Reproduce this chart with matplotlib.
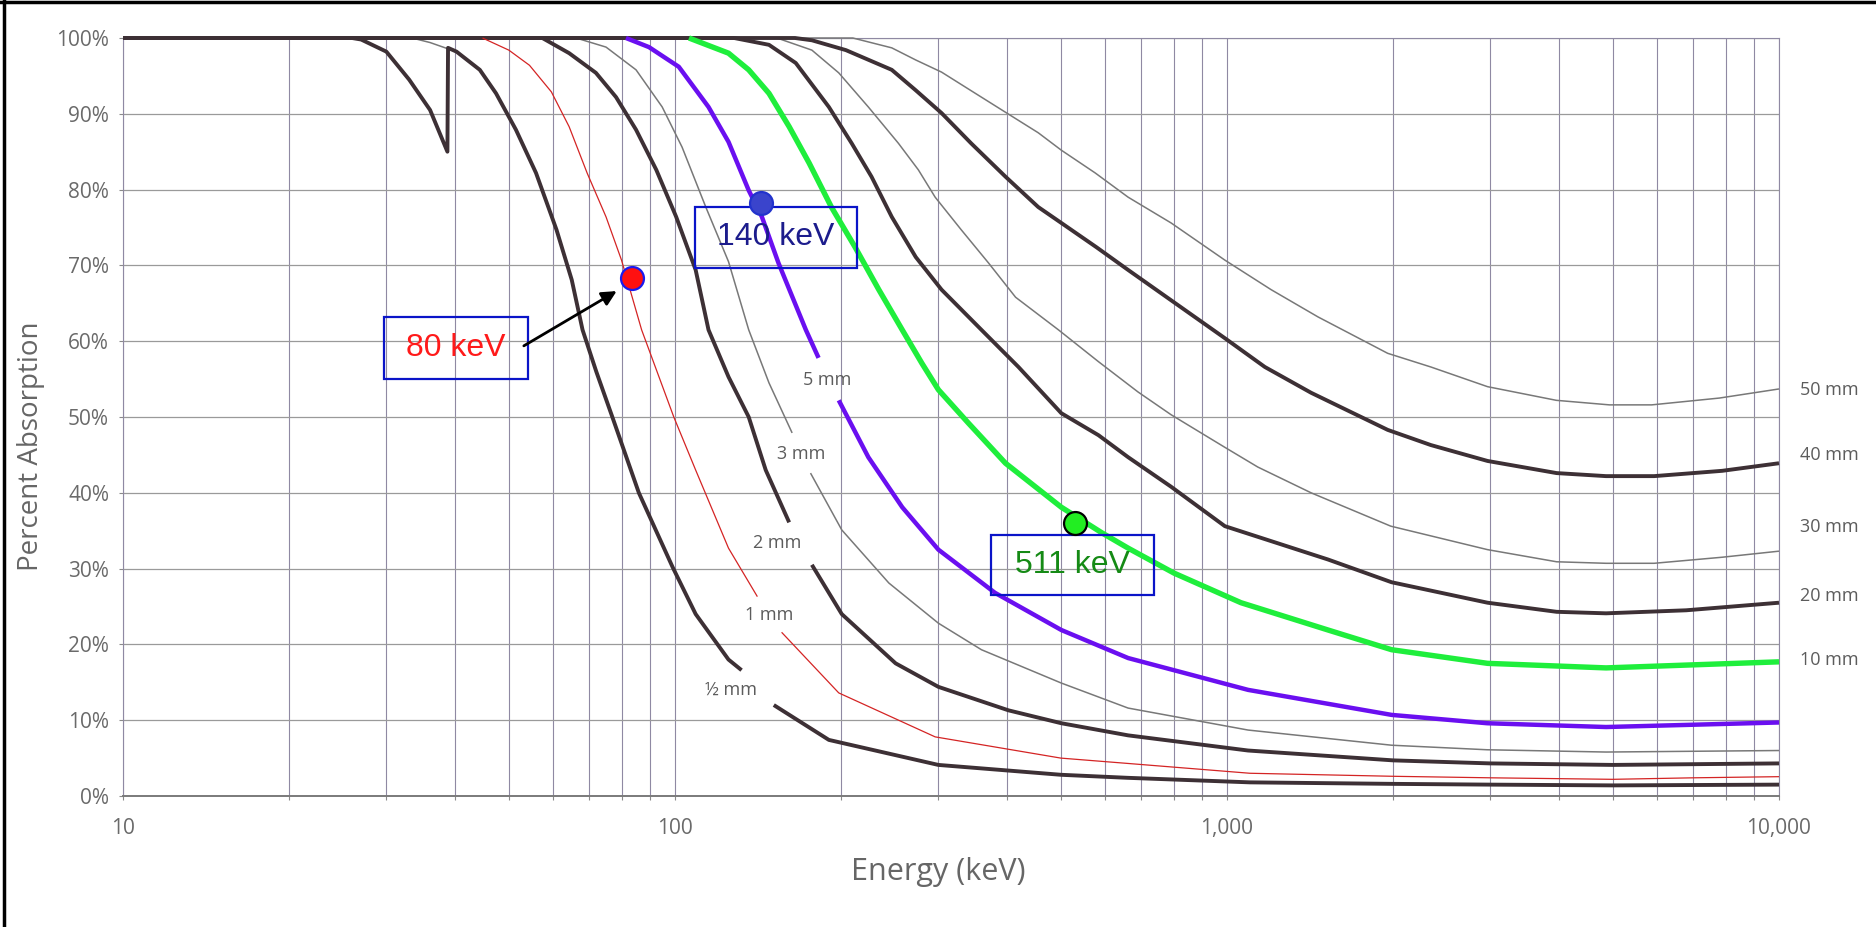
import numpy as np
import matplotlib.pyplot as plt
from matplotlib.patches import Rectangle
from matplotlib.lines import Line2D
from matplotlib.ticker import FixedLocator, LogLocator, NullFormatter

plt.rcParams['font.family'] = ['Open Sans', 'DejaVu Sans']

nan = np.nan

# percent absorption vs energy (keV), one pair per crystal thickness
half_mm_e = [10, 26, 27, 30, 33, 36, 38.7, 38.8, 40.2, 44.3, 47.4, 51.5, 56, 61, 65, 68, 72, 77, 86, 99,
             109, 125, 132, nan, 151, 190, 300, 500, 660, 1100, 2000, 3000, 5000, 10000]
half_mm_p = [100, 100, 99.8, 98.2, 94.5, 90.5, 85.0, 98.7, 98.2, 95.8, 92.7, 87.9, 82.2, 74.7, 68.1, 61.5, 56, 50, 40, 30.2,
             24, 18, 16.6, nan, 12, 7.4, 4.1, 2.8, 2.4, 1.8, 1.6, 1.5, 1.4, 1.5]

one_mm_pre_e = [10, 33.4, 36, 38.7]
one_mm_pre_p = [100, 100, 99.4, 98.6]
one_mm_e = [44.8, 50, 54.5, 59.7, 64.3, 69.3, 75, 80, 87, 99.5, 109, 125, 141, nan, 156, 198, 296, 500, 660,
            1100, 2000, 3000, 5000, 7000, 10000]
one_mm_p = [100, 98.4, 96.4, 92.9, 88.3, 82.2, 76.4, 70.7, 61.5, 50, 43, 32.7, 26.3, nan, 21.6, 13.6, 7.8, 5.0, 4.3,
            3.0, 2.6, 2.4, 2.2, 2.4, 2.55]

two_mm_e = [10, 57.5, 64.3, 71.9, 78.2, 85, 92.5, 100.5, 109, 115, 125, 136, 146, 161, nan, 177, 200.5, 251, 300,
            402, 501, 662, 1092, 2000, 3000, 5000, 10000]
two_mm_p = [100, 100, 98, 95.4, 92.2, 87.9, 82.6, 76.4, 69.4, 61.5, 55.3, 50, 43, 36.1, nan, 30.5, 24.0, 17.5, 14.4,
            11.3, 9.6, 8.0, 6.0, 4.7, 4.3, 4.1, 4.3]

three_mm_e = [10, 66.2, 75, 85, 94.8, 103, 113.7, 125, 136, 148, 163, nan, 176, 200.5, 244, 300, 359, 501, 662,
              1092, 1987, 2960, 4860, 10000]
three_mm_p = [100, 100, 98.8, 95.8, 90.9, 85.6, 77.7, 70.5, 61.5, 54.5, 47.9, nan, 42.6, 35.1, 28.1, 22.8, 19.3, 14.9, 11.6,
              8.7, 6.7, 6.1, 5.8, 6.0]

five_mm_e = [81.5, 89.7, 101.6, 115, 125, 136, 143.7, 154, 172.6, 182, nan, 198, 224, 258, 300, 380, 501, 662,
             1092, 1987, 2960, 4860, 10000]
five_mm_p = [100, 98.8, 96.2, 90.9, 86.3, 79.9, 76.4, 70.3, 61.5, 57.8, nan, 52.2, 44.7, 38.1, 32.5, 26.8, 21.9, 18.2,
             14.0, 10.7, 9.6, 9.1, 9.7]

ten_mm_e = [106, 125, 136, 148, 161, 175, 192, 212, 234, 258, 280, 300, 340, 397, 501, 594, 662, 802,
            1060, 1524, 1987, 2965, 4860, 10000]
ten_mm_p = [100, 98, 95.8, 92.7, 88.3, 83.5, 77.7, 72.4, 66.8, 61.5, 57.1, 53.6, 49.2, 43.9, 38.1, 34.7, 32.7, 29.4,
            25.5, 21.9, 19.3, 17.5, 16.9, 17.7]

twenty_mm_e = [10, 128, 148, 165.5, 190, 209, 227, 247, 273, 304, 359, 419, 501, 585, 662, 792, 991,
               1524, 1987, 2965, 3955, 4860, 6790, 10000]
twenty_mm_p = [100, 100, 99.1, 96.7, 90.9, 86.1, 81.7, 76.4, 71.1, 66.8, 61.5, 56.6, 50.5, 47.6, 44.7, 40.8, 35.6,
               31.2, 28.2, 25.5, 24.3, 24.1, 24.5, 25.5]

thirty_mm_e = [10, 153, 177, 198, 224, 254, 276, 296, 330, 370, 414, 495, 585, 690, 792, 991, 1137, 1420,
               1980, 2965, 3955, 4860, 5940, 7890, 10000]
thirty_mm_p = [100, 100, 98.4, 95.4, 90.9, 86.1, 82.6, 79.0, 74.7, 70.3, 65.8, 61.5, 57.3, 53.3, 50.3, 46.0, 43.4, 40.0,
               35.6, 32.5, 30.9, 30.7, 30.7, 31.5, 32.3]

forty_mm_e = [10, 165, 177, 204, 247, 273, 304, 344, 397, 455, 501, 580, 662, 792, 991, 1171, 1420, 1955,
              2340, 2965, 3955, 4860, 5940, 7890, 10000]
forty_mm_p = [100, 100, 99.7, 98.4, 95.8, 93.1, 90.1, 86.1, 81.7, 77.7, 75.6, 72.4, 69.4, 65.4, 60.4, 56.6, 53.2, 48.3,
              46.3, 44.2, 42.6, 42.2, 42.2, 42.9, 43.9]

fifty_mm_e = [10, 210, 247, 273, 304, 350, 397, 455, 501, 577, 662, 792, 991, 1202, 1462, 1955, 2340, 2965,
              3950, 4930, 5880, 7800, 10000]
fifty_mm_p = [100, 100, 98.7, 97.1, 95.5, 92.7, 90.2, 87.5, 85.2, 82.2, 79.0, 75.6, 70.7, 66.8, 63.2, 58.4, 56.6, 54.0,
              52.2, 51.6, 51.6, 52.5, 53.7]

# marked energies
mark_labels = ['80 keV', '140 keV', '511 keV']
mark_e = [83.6, 143, 531]
mark_p = [68.3, 78.2, 36.0]

# axis ticks
xtick_vals = [10, 100, 1000, 10000]
xtick_labels = ['10', '100', '1,000', '10,000']
ytick_vals = list(range(0, 101, 10))

# labels on the curves
inner_labels = ['½ mm', '1 mm', '2 mm', '3 mm', '5 mm']
inner_e = [126.5, 148, 153, 169, 188.5]
inner_p = [14.0, 23.9, 33.4, 45.1, 54.9]
right_labels = ['50 mm', '40 mm', '30 mm', '20 mm', '10 mm']
right_p = [53.6, 45.0, 35.5, 26.4, 17.9]

dark = '#3d3035'
thin = '#787878'
label_gray = '#5c5c5c'

fig = plt.figure(figsize=(18.76, 9.27), dpi=100)
ax = fig.add_axes([123 / 1876, 1 - 796 / 927, 1656 / 1876, 758 / 927])
ax.set_xscale('log')
ax.set_xlim(10, 10000)
ax.set_ylim(0, 100)

ax.xaxis.set_major_locator(FixedLocator(xtick_vals))
ax.xaxis.set_minor_locator(LogLocator(base=10, subs=np.arange(2, 10)))
ax.xaxis.set_minor_formatter(NullFormatter())
ax.set_xticklabels(xtick_labels)
ax.set_yticks(ytick_vals)
ax.set_yticklabels([f'{v}%' for v in ytick_vals])

ax.grid(which='both', axis='x', color='#8f89a3', lw=0.8)
ax.grid(which='major', axis='y', color='#9a9a9a', lw=0.9)
ax.set_axisbelow(True)
ax.tick_params(which='both', colors='#8a8a8a', labelcolor='#6a6a6a', labelsize=15, length=3, width=0.8)
ax.tick_params(axis='y', pad=7)
ax.tick_params(axis='x', pad=13)
for side in ['left', 'right', 'top']:
    ax.spines[side].set_color('#8f89a3')
    ax.spines[side].set_linewidth(0.8)
ax.spines['bottom'].set_color('#7a7a7a')
ax.spines['bottom'].set_linewidth(1.4)

kw = dict(solid_capstyle='butt', solid_joinstyle='round', clip_on=False)
ax.plot(fifty_mm_e, fifty_mm_p, color=thin, lw=1.1, zorder=3, **kw)
ax.plot(thirty_mm_e, thirty_mm_p, color=thin, lw=1.1, zorder=3, **kw)
ax.plot(three_mm_e, three_mm_p, color=thin, lw=1.1, zorder=3, **kw)
ax.plot(one_mm_pre_e, one_mm_pre_p, color=thin, lw=1.1, zorder=3, **kw)
ax.plot(forty_mm_e, forty_mm_p, color=dark, lw=2.8, zorder=4, **kw)
ax.plot(twenty_mm_e, twenty_mm_p, color=dark, lw=2.8, zorder=4, **kw)
ax.plot(two_mm_e, two_mm_p, color=dark, lw=2.8, zorder=4, **kw)
ax.plot(half_mm_e, half_mm_p, color=dark, lw=2.8, zorder=4, **kw)
ax.plot(one_mm_e, one_mm_p, color='#d42424', lw=0.9, zorder=5, **kw)
ax.plot(five_mm_e, five_mm_p, color='#6a0ff0', lw=3.2, zorder=5, **kw)
ax.plot(ten_mm_e, ten_mm_p, color='#1fee3c', lw=3.9, zorder=5, **kw)

for txt, e, p in zip(inner_labels, inner_e, inner_p):
    ax.text(e, p, txt, ha='center', va='center', fontsize=13, color=label_gray, zorder=6)
for txt, p in zip(right_labels, right_p):
    ax.text(1.0127, p, txt, transform=ax.get_yaxis_transform(), ha='left', va='center',
            fontsize=13, color=label_gray)

ax.set_xlabel('Energy (keV)', fontsize=22, color='#666666', va='center')
ax.xaxis.set_label_coords(0.492, -0.1003)
ax.set_ylabel('Percent Absorption', fontsize=20, color='#666666', va='center')
ax.yaxis.set_label_coords(-0.0555, 0.462)

# annotation boxes: (e_left, e_right, p_bottom, p_top)
boxes = [(29.7, 54.2, 55.0, 63.2), (108.6, 214, 69.7, 77.7), (374, 738, 26.5, 34.4)]
text_colors = ['#ff1a1a', '#1c1c8c', '#158a15']
dot_faces = ['#ff1010', '#3a44cc', '#22ee22']
dot_edges = ['#1a1aee', '#2233cc', '#000000']
for lab, (e0, e1, p0, p1), tc in zip(mark_labels, boxes, text_colors):
    ax.add_patch(Rectangle((e0, p0), e1 - e0, p1 - p0, fill=False, ec='#0a14c8', lw=1.6, zorder=7))
    ax.text(np.sqrt(e0 * e1), (p0 + p1) / 2, lab, ha='center', va='center', fontsize=23,
            color=tc, family='Liberation Sans', zorder=8)

ax.annotate('', xy=(79.2, 66.8), xytext=(52.7, 59.2),
            arrowprops=dict(arrowstyle='-|>', color='black', lw=2, mutation_scale=22), zorder=8)

for e, p, fc, ec in zip(mark_e, mark_p, dot_faces, dot_edges):
    ax.plot([e], [p], 'o', ms=16.5, mfc=fc, mec=ec, mew=1.6, zorder=9, clip_on=False)

# frame of the scanned picture
fig.add_artist(Line2D([0.0022, 0.0022], [0, 1], color='black', lw=2.5, transform=fig.transFigure))
fig.add_artist(Line2D([0, 1], [0.9975, 0.9975], color='black', lw=2.5, transform=fig.transFigure))

fig.savefig('out.png', dpi=100, facecolor='white')
